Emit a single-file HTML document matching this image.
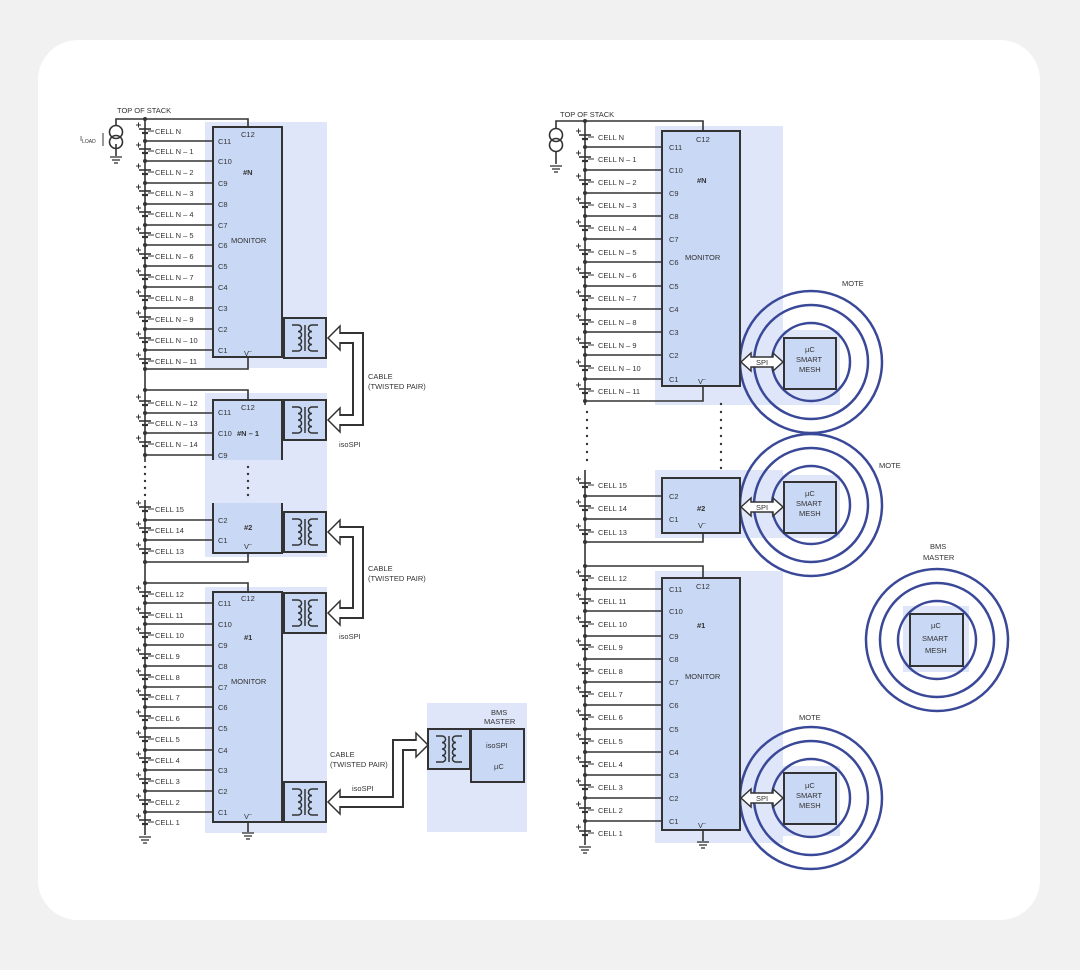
<!DOCTYPE html>
<html><head><meta charset="utf-8"><style>
html,body{margin:0;padding:0;background:#f1f1f1;}
svg{display:block}
text{font-family:"Liberation Sans",sans-serif;font-size:7.5px;fill:#333}
</style></head><body>
<svg width="1080" height="970" viewBox="0 0 1080 970" xmlns="http://www.w3.org/2000/svg">
<defs>
<g id="bat" stroke="#333" stroke-width="1.6" fill="none">
<line x1="-6" y1="-2" x2="6" y2="-2"/><line x1="-3" y1="2" x2="3" y2="2" stroke-width="2.2"/>
<line x1="-9" y1="-6" x2="-4" y2="-6" stroke-width="1"/><line x1="-6.5" y1="-8.5" x2="-6.5" y2="-3.5" stroke-width="1"/>
<line x1="3" y1="0" x2="9" y2="0" stroke-width="1"/>
</g>
<g id="xf" stroke="#333" stroke-width="1.5" fill="none">
<rect x="0" y="0" width="42" height="40" fill="#c9d8f5" stroke-width="2"/>
<path d="M8 7 H14 a3.5 3.2 0 0 1 0 6.5 a3.5 3.2 0 0 1 0 6.5 a3.5 3.2 0 0 1 0 6.5 a3.5 3.2 0 0 1 0 6.5 H8"/>
<path d="M34 7 H28 a3.5 3.2 0 0 0 0 6.5 a3.5 3.2 0 0 0 0 6.5 a3.5 3.2 0 0 0 0 6.5 a3.5 3.2 0 0 0 0 6.5 H34"/>
<line x1="21" y1="7" x2="21" y2="33"/>
</g>
<g id="gnd" stroke="#333" stroke-width="1.3"><line x1="-6" y1="0" x2="6" y2="0"/><line x1="-4" y1="3" x2="4" y2="3"/><line x1="-2" y1="6" x2="2" y2="6"/></g>
<g id="isrc" stroke="#333" stroke-width="1.6" fill="none"><circle cx="0" cy="-5" r="6.5"/><circle cx="0" cy="5" r="6.5"/></g>
<g id="spi"><polygon points="0,0 10,-9 10,-5 32,-5 32,-9 42,0 32,9 32,5 10,5 10,9" fill="#fff" stroke="#333" stroke-width="1.5"/><text x="15" y="3">SPI</text></g>
</defs>
<rect x="38" y="40" width="1002" height="880" rx="40" fill="#fff"/>

<!-- ================= LEFT ================= -->
<g fill="#dfe6fa">
<rect x="205" y="122" width="122" height="246"/>
<rect x="205" y="393" width="122" height="164"/>
<rect x="205" y="587" width="122" height="246"/>
<rect x="427" y="703" width="100" height="129"/>
</g>
<g fill="#c9d8f5" stroke="#333" stroke-width="2">
<rect x="213" y="127" width="69" height="230"/>
<rect x="213" y="592" width="69" height="230"/>
<rect x="471" y="729" width="53" height="53"/>
</g>
<path d="M213 460 V400 H282 V460 Z" fill="#c9d8f5"/>
<path d="M213 460 V400 H282 V460" fill="none" stroke="#333" stroke-width="2"/>
<path d="M213 503 V553 H282 V503 Z" fill="#c9d8f5"/>
<path d="M213 503 V553 H282 V503" fill="none" stroke="#333" stroke-width="2"/>
<use href="#xf" x="284" y="318"/><use href="#xf" x="284" y="400"/><use href="#xf" x="284" y="512"/>
<use href="#xf" x="284" y="593"/><use href="#xf" x="284" y="782"/><use href="#xf" x="428" y="729"/>

<g stroke="#333" stroke-width="1.6" fill="none">
<line x1="145" y1="119" x2="145" y2="462"/>
<line x1="145" y1="500" x2="145" y2="835"/>
<path d="M116 126 V119 H248 V127"/>
<path d="M145 369 H248 V357"/>
<path d="M145 390 H248 V400"/>
<path d="M145 562 H248 V553"/>
<path d="M145 583 H248 V592"/>
<line x1="248" y1="822" x2="248" y2="832"/>
<line x1="116" y1="144" x2="116" y2="156"/>
<path d="M145 141H213M145 161H213M145 183H213M145 204H213M145 225H213M145 245H213M145 266H213M145 287H213M145 308H213M145 329H213M145 350H213"/>
<path d="M145 413H213M145 433H213M145 455H213M145 520H213M145 540H213"/>
<path d="M145 603H213M145 624H213M145 645H213M145 666H213M145 687H213M145 707H213M145 728H213M145 750H213M145 770H213M145 791H213M145 812H213"/>
</g>
<use href="#isrc" x="116" y="137"/><use href="#gnd" x="116" y="157"/>
<line x1="103" y1="133" x2="103" y2="146" stroke="#333" stroke-width="1"/>
<use href="#gnd" x="145" y="837"/><use href="#gnd" x="248" y="833"/>
<g fill="#333">
<circle cx="145" cy="119" r="2"/>
<circle cx="145" cy="141" r="2"/><circle cx="145" cy="161" r="2"/><circle cx="145" cy="183" r="2"/><circle cx="145" cy="204" r="2"/><circle cx="145" cy="225" r="2"/><circle cx="145" cy="245" r="2"/><circle cx="145" cy="266" r="2"/><circle cx="145" cy="287" r="2"/><circle cx="145" cy="308" r="2"/><circle cx="145" cy="329" r="2"/><circle cx="145" cy="350" r="2"/><circle cx="145" cy="369" r="2"/>
<circle cx="145" cy="390" r="2"/><circle cx="145" cy="413" r="2"/><circle cx="145" cy="433" r="2"/><circle cx="145" cy="455" r="2"/>
<circle cx="145" cy="520" r="2"/><circle cx="145" cy="540" r="2"/><circle cx="145" cy="562" r="2"/><circle cx="145" cy="583" r="2"/>
<circle cx="145" cy="603" r="2"/><circle cx="145" cy="624" r="2"/><circle cx="145" cy="645" r="2"/><circle cx="145" cy="666" r="2"/><circle cx="145" cy="687" r="2"/><circle cx="145" cy="707" r="2"/><circle cx="145" cy="728" r="2"/><circle cx="145" cy="750" r="2"/><circle cx="145" cy="770" r="2"/><circle cx="145" cy="791" r="2"/><circle cx="145" cy="812" r="2"/>
<circle cx="145" cy="467" r="1.2"/><circle cx="145" cy="474" r="1.2"/><circle cx="145" cy="481" r="1.2"/><circle cx="145" cy="488" r="1.2"/><circle cx="145" cy="495" r="1.2"/>
<circle cx="248" cy="467" r="1.2"/><circle cx="248" cy="474" r="1.2"/><circle cx="248" cy="481" r="1.2"/><circle cx="248" cy="488" r="1.2"/><circle cx="248" cy="495" r="1.2"/>
</g>
<g>
<use href="#bat" x="145" y="131"/><use href="#bat" x="145" y="151"/><use href="#bat" x="145" y="172"/><use href="#bat" x="145" y="193"/><use href="#bat" x="145" y="214"/><use href="#bat" x="145" y="235"/><use href="#bat" x="145" y="256"/><use href="#bat" x="145" y="277"/><use href="#bat" x="145" y="298"/><use href="#bat" x="145" y="319"/><use href="#bat" x="145" y="340"/><use href="#bat" x="145" y="361"/>
<use href="#bat" x="145" y="403"/><use href="#bat" x="145" y="423"/><use href="#bat" x="145" y="444"/>
<use href="#bat" x="145" y="509"/><use href="#bat" x="145" y="530"/><use href="#bat" x="145" y="551"/>
<use href="#bat" x="145" y="594"/><use href="#bat" x="145" y="615"/><use href="#bat" x="145" y="635"/><use href="#bat" x="145" y="656"/><use href="#bat" x="145" y="677"/><use href="#bat" x="145" y="697"/><use href="#bat" x="145" y="718"/><use href="#bat" x="145" y="739"/><use href="#bat" x="145" y="760"/><use href="#bat" x="145" y="781"/><use href="#bat" x="145" y="802"/><use href="#bat" x="145" y="822"/>
</g>
<g>
<text x="117" y="113">TOP OF STACK</text>
<text x="80" y="141">I<tspan font-size="5" dy="2">LOAD</tspan></text>
<text x="155" y="134">CELL N</text><text x="155" y="154">CELL N – 1</text><text x="155" y="175">CELL N – 2</text><text x="155" y="196">CELL N – 3</text><text x="155" y="217">CELL N – 4</text><text x="155" y="238">CELL N – 5</text><text x="155" y="259">CELL N – 6</text><text x="155" y="280">CELL N – 7</text><text x="155" y="301">CELL N – 8</text><text x="155" y="322">CELL N – 9</text><text x="155" y="343">CELL N – 10</text><text x="155" y="364">CELL N – 11</text>
<text x="155" y="406">CELL N – 12</text><text x="155" y="426">CELL N – 13</text><text x="155" y="447">CELL N – 14</text>
<text x="155" y="512">CELL 15</text><text x="155" y="533">CELL 14</text><text x="155" y="554">CELL 13</text>
<text x="155" y="597">CELL 12</text><text x="155" y="618">CELL 11</text><text x="155" y="638">CELL 10</text><text x="155" y="659">CELL 9</text><text x="155" y="680">CELL 8</text><text x="155" y="700">CELL 7</text><text x="155" y="721">CELL 6</text><text x="155" y="742">CELL 5</text><text x="155" y="763">CELL 4</text><text x="155" y="784">CELL 3</text><text x="155" y="805">CELL 2</text><text x="155" y="825">CELL 1</text>
<text x="241" y="137">C12</text><text x="218" y="144">C11</text><text x="218" y="164">C10</text><text x="218" y="186">C9</text><text x="218" y="207">C8</text><text x="218" y="228">C7</text><text x="218" y="248">C6</text><text x="218" y="269">C5</text><text x="218" y="290">C4</text><text x="218" y="311">C3</text><text x="218" y="332">C2</text><text x="218" y="353">C1</text><text x="244" y="356">V<tspan font-size="5" dy="-3">–</tspan></text>
<text x="243" y="175" font-weight="bold">#N</text><text x="231" y="243">MONITOR</text>
<text x="241" y="410">C12</text><text x="218" y="415">C11</text><text x="218" y="436">C10</text><text x="218" y="458">C9</text><text x="237" y="436" font-weight="bold">#N – 1</text>
<text x="218" y="523">C2</text><text x="218" y="543">C1</text><text x="244" y="530" font-weight="bold">#2</text><text x="244" y="549">V<tspan font-size="5" dy="-3">–</tspan></text>
<text x="241" y="601">C12</text><text x="218" y="606">C11</text><text x="218" y="627">C10</text><text x="218" y="648">C9</text><text x="218" y="669">C8</text><text x="218" y="690">C7</text><text x="218" y="710">C6</text><text x="218" y="731">C5</text><text x="218" y="753">C4</text><text x="218" y="773">C3</text><text x="218" y="794">C2</text><text x="218" y="815">C1</text><text x="244" y="819">V<tspan font-size="5" dy="-3">–</tspan></text>
<text x="244" y="640" font-weight="bold">#1</text><text x="231" y="684">MONITOR</text>
<text x="368" y="379">CABLE</text><text x="368" y="389">(TWISTED PAIR)</text><text x="339" y="447">isoSPI</text>
<text x="368" y="571">CABLE</text><text x="368" y="581">(TWISTED PAIR)</text><text x="339" y="639">isoSPI</text>
<text x="330" y="757">CABLE</text><text x="330" y="767">(TWISTED PAIR)</text><text x="352" y="791">isoSPI</text>
<text x="491" y="715">BMS</text><text x="484" y="724">MASTER</text><text x="486" y="748">isoSPI</text><text x="494" y="769">µC</text>
</g>
<g fill="none" stroke-linejoin="miter">
<path d="M336 338 H358 V420 H336" stroke="#333" stroke-width="12"/><path d="M336 338 H358 V420 H336" stroke="#fff" stroke-width="8"/>
<path d="M336 532 H358 V613 H336" stroke="#333" stroke-width="12"/><path d="M336 532 H358 V613 H336" stroke="#fff" stroke-width="8"/>
<path d="M336 802 H398 V745 H420" stroke="#333" stroke-width="12"/><path d="M336 802 H398 V745 H420" stroke="#fff" stroke-width="8"/>
</g>
<g fill="#fff" stroke="#333" stroke-width="1.5">
<polygon points="328,338 340,326 340,350"/><polygon points="328,420 340,408 340,432"/>
<polygon points="328,532 340,520 340,544"/><polygon points="328,613 340,601 340,625"/>
<polygon points="328,802 340,790 340,814"/><polygon points="428,745 416,733 416,757"/>
</g>
<g fill="#fff"><rect x="336" y="334" width="6" height="8"/><rect x="336" y="416" width="6" height="8"/><rect x="336" y="528" width="6" height="8"/><rect x="336" y="609" width="6" height="8"/><rect x="336" y="798" width="6" height="8"/><rect x="413" y="741" width="6" height="8"/></g>

<!-- ================= RIGHT ================= -->
<g fill="#dfe6fa">
<rect x="655" y="126" width="128" height="279"/><rect x="783" y="330" width="57" height="75"/>
<rect x="655" y="470" width="128" height="68"/><rect x="783" y="475" width="57" height="63"/>
<rect x="655" y="571" width="128" height="272"/><rect x="783" y="766" width="57" height="70"/>
<rect x="903" y="606" width="66" height="66"/>
</g>
<g fill="none" stroke="#3a4898" stroke-width="2.5">
<circle cx="811" cy="362" r="71"/><circle cx="811" cy="362" r="57"/><circle cx="811" cy="362" r="39"/>
<circle cx="811" cy="505" r="71"/><circle cx="811" cy="505" r="57"/><circle cx="811" cy="505" r="39"/>
<circle cx="811" cy="798" r="71"/><circle cx="811" cy="798" r="57"/><circle cx="811" cy="798" r="39"/>
<circle cx="937" cy="640" r="71"/><circle cx="937" cy="640" r="57"/><circle cx="937" cy="640" r="39"/>
</g>
<g fill="#c9d8f5" stroke="#333" stroke-width="2">
<rect x="662" y="131" width="78" height="255"/>
<rect x="662" y="478" width="78" height="55"/>
<rect x="662" y="578" width="78" height="252"/>
<rect x="784" y="338" width="52" height="51"/>
<rect x="784" y="482" width="52" height="51"/>
<rect x="784" y="773" width="52" height="51"/>
<rect x="910" y="614" width="53" height="52"/>
</g>
<use href="#spi" x="741" y="362"/><use href="#spi" x="741" y="507"/><use href="#spi" x="741" y="798"/>
<g stroke="#333" stroke-width="1.6" fill="none">
<line x1="585" y1="121" x2="585" y2="405"/>
<line x1="585" y1="470" x2="585" y2="845"/>
<path d="M556 129 V121 H703 V131"/>
<line x1="556" y1="152" x2="556" y2="164"/>
<path d="M585 401 H703 V386"/><path d="M585 542 H703 V533"/><path d="M585 566 H703 V578"/>
<line x1="703" y1="830" x2="703" y2="841"/>
<path d="M585 147H662M585 170H662M585 193H662M585 216H662M585 239H662M585 262H662M585 286H662M585 309H662M585 332H662M585 355H662M585 379H662"/>
<path d="M585 496H662M585 519H662"/>
<path d="M585 589H662M585 611H662M585 636H662M585 659H662M585 682H662M585 705H662M585 729H662M585 752H662M585 775H662M585 798H662M585 821H662"/>
</g>
<use href="#isrc" x="556" y="140"/><use href="#gnd" x="556" y="166"/>
<use href="#gnd" x="585" y="847"/><use href="#gnd" x="703" y="842"/>
<g fill="#333">
<circle cx="585" cy="121" r="2"/>
<circle cx="585" cy="147" r="2"/><circle cx="585" cy="170" r="2"/><circle cx="585" cy="193" r="2"/><circle cx="585" cy="216" r="2"/><circle cx="585" cy="239" r="2"/><circle cx="585" cy="262" r="2"/><circle cx="585" cy="286" r="2"/><circle cx="585" cy="309" r="2"/><circle cx="585" cy="332" r="2"/><circle cx="585" cy="355" r="2"/><circle cx="585" cy="379" r="2"/><circle cx="585" cy="401" r="2"/>
<circle cx="585" cy="496" r="2"/><circle cx="585" cy="519" r="2"/><circle cx="585" cy="542" r="2"/><circle cx="585" cy="566" r="2"/>
<circle cx="585" cy="589" r="2"/><circle cx="585" cy="611" r="2"/><circle cx="585" cy="636" r="2"/><circle cx="585" cy="659" r="2"/><circle cx="585" cy="682" r="2"/><circle cx="585" cy="705" r="2"/><circle cx="585" cy="729" r="2"/><circle cx="585" cy="752" r="2"/><circle cx="585" cy="775" r="2"/><circle cx="585" cy="798" r="2"/><circle cx="585" cy="821" r="2"/>
<circle cx="587" cy="412" r="1.2"/><circle cx="587" cy="420" r="1.2"/><circle cx="587" cy="428" r="1.2"/><circle cx="587" cy="436" r="1.2"/><circle cx="587" cy="444" r="1.2"/><circle cx="587" cy="452" r="1.2"/><circle cx="587" cy="460" r="1.2"/>
<circle cx="721" cy="404" r="1.2"/><circle cx="721" cy="412" r="1.2"/><circle cx="721" cy="420" r="1.2"/><circle cx="721" cy="428" r="1.2"/><circle cx="721" cy="436" r="1.2"/><circle cx="721" cy="444" r="1.2"/><circle cx="721" cy="452" r="1.2"/><circle cx="721" cy="460" r="1.2"/><circle cx="721" cy="468" r="1.2"/>
</g>
<g>
<use href="#bat" x="585" y="137"/><use href="#bat" x="585" y="159"/><use href="#bat" x="585" y="182"/><use href="#bat" x="585" y="205"/><use href="#bat" x="585" y="228"/><use href="#bat" x="585" y="252"/><use href="#bat" x="585" y="275"/><use href="#bat" x="585" y="298"/><use href="#bat" x="585" y="322"/><use href="#bat" x="585" y="345"/><use href="#bat" x="585" y="368"/><use href="#bat" x="585" y="391"/>
<use href="#bat" x="585" y="485"/><use href="#bat" x="585" y="508"/><use href="#bat" x="585" y="532"/>
<use href="#bat" x="585" y="578"/><use href="#bat" x="585" y="601"/><use href="#bat" x="585" y="624"/><use href="#bat" x="585" y="647"/><use href="#bat" x="585" y="671"/><use href="#bat" x="585" y="694"/><use href="#bat" x="585" y="717"/><use href="#bat" x="585" y="741"/><use href="#bat" x="585" y="764"/><use href="#bat" x="585" y="787"/><use href="#bat" x="585" y="810"/><use href="#bat" x="585" y="833"/>
</g>
<g>
<text x="560" y="117">TOP OF STACK</text>
<text x="598" y="140">CELL N</text><text x="598" y="162">CELL N – 1</text><text x="598" y="185">CELL N – 2</text><text x="598" y="208">CELL N – 3</text><text x="598" y="231">CELL N – 4</text><text x="598" y="255">CELL N – 5</text><text x="598" y="278">CELL N – 6</text><text x="598" y="301">CELL N – 7</text><text x="598" y="325">CELL N – 8</text><text x="598" y="348">CELL N – 9</text><text x="598" y="371">CELL N – 10</text><text x="598" y="394">CELL N – 11</text>
<text x="598" y="488">CELL 15</text><text x="598" y="511">CELL 14</text><text x="598" y="535">CELL 13</text>
<text x="598" y="581">CELL 12</text><text x="598" y="604">CELL 11</text><text x="598" y="627">CELL 10</text><text x="598" y="650">CELL 9</text><text x="598" y="674">CELL 8</text><text x="598" y="697">CELL 7</text><text x="598" y="720">CELL 6</text><text x="598" y="744">CELL 5</text><text x="598" y="767">CELL 4</text><text x="598" y="790">CELL 3</text><text x="598" y="813">CELL 2</text><text x="598" y="836">CELL 1</text>
<text x="696" y="142">C12</text><text x="669" y="150">C11</text><text x="669" y="173">C10</text><text x="669" y="196">C9</text><text x="669" y="219">C8</text><text x="669" y="242">C7</text><text x="669" y="265">C6</text><text x="669" y="289">C5</text><text x="669" y="312">C4</text><text x="669" y="335">C3</text><text x="669" y="358">C2</text><text x="669" y="382">C1</text><text x="698" y="384">V<tspan font-size="5" dy="-3">–</tspan></text>
<text x="697" y="183" font-weight="bold">#N</text><text x="685" y="260">MONITOR</text>
<text x="669" y="499">C2</text><text x="669" y="522">C1</text><text x="697" y="511" font-weight="bold">#2</text><text x="698" y="528">V<tspan font-size="5" dy="-3">–</tspan></text>
<text x="696" y="589">C12</text><text x="669" y="592">C11</text><text x="669" y="614">C10</text><text x="669" y="639">C9</text><text x="669" y="662">C8</text><text x="669" y="685">C7</text><text x="669" y="708">C6</text><text x="669" y="732">C5</text><text x="669" y="755">C4</text><text x="669" y="778">C3</text><text x="669" y="801">C2</text><text x="669" y="824">C1</text><text x="698" y="828">V<tspan font-size="5" dy="-3">–</tspan></text>
<text x="697" y="628" font-weight="bold">#1</text><text x="685" y="679">MONITOR</text>
<text x="805" y="352">µC</text><text x="796" y="362">SMART</text><text x="799" y="372">MESH</text>
<text x="805" y="496">µC</text><text x="796" y="506">SMART</text><text x="799" y="516">MESH</text>
<text x="805" y="788">µC</text><text x="796" y="798">SMART</text><text x="799" y="808">MESH</text>
<text x="931" y="628">µC</text><text x="922" y="641">SMART</text><text x="925" y="653">MESH</text>
<text x="842" y="286">MOTE</text><text x="879" y="468">MOTE</text><text x="799" y="720">MOTE</text>
<text x="930" y="549">BMS</text><text x="923" y="560">MASTER</text>
</g>
</svg>
</body></html>
